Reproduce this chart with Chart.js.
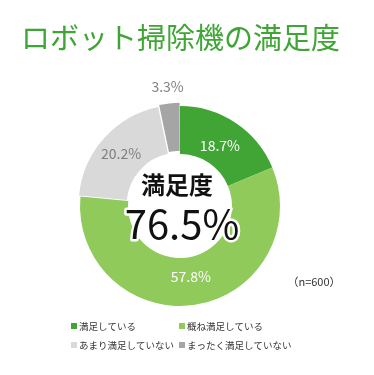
<!DOCTYPE html>
<html>
<head>
<meta charset="utf-8">
<script src="https://cdn.jsdelivr.net/npm/chart.js@4.4.1/dist/chart.umd.min.js"></script>
<style>
  html, body { margin: 0; padding: 0; background: #fff; }
  #wrap { width: 374px; height: 375px; }
</style>
</head>
<body>
<div id="wrap"><canvas id="pie" width="374" height="375"></canvas></div>
<script>
// chart data
const categories = ["満足している", "概ね満足している", "あまり満足していない", "まったく満足していない"];
const shares = [18.7, 57.8, 20.2, 3.3];
const colors = ["#41a535", "#8fca5a", "#d9d9d9", "#a5a5a5"];
const labelColors = ["#ffffff", "#ffffff", "#7f7f7f", "#7f7f7f"];
const offsets = [0, 0, 7, 7];
const titleText = "ロボット掃除機の満足度";
const centerTitle = "満足度";
const centerValue = "76.5%";
const sampleNote = "（n=600）";

const FONT = '"Noto Sans CJK JP", "Noto Sans", sans-serif';

const overlay = {
  id: "overlay",
  afterDatasetsDraw(chart) {
    const ctx = chart.ctx;
    const meta = chart.getDatasetMeta(0);
    ctx.save();

    // title
    ctx.fillStyle = "#3fa535";
    ctx.font = "29px " + FONT;
    ctx.textAlign = "left";
    ctx.textBaseline = "middle";
    ctx.fillText(titleText, 21, 38);

    // slice labels
    ctx.font = "14px " + FONT;
    ctx.textAlign = "center";
    meta.data.forEach((arc, i) => {
      const p = arc.getProps(["x", "y", "startAngle", "endAngle", "innerRadius", "outerRadius"], true);
      const mid = (p.startAngle + p.endAngle) / 2;
      const small = shares[i] < 5;
      const r = small ? p.outerRadius + 13 : (p.innerRadius + p.outerRadius) / 2 - 4;
      const off = offsets[i];
      const x = p.x + Math.cos(mid) * (r + off);
      const y = p.y + Math.sin(mid) * (r + off);
      ctx.fillStyle = small ? "#7f7f7f" : labelColors[i];
      ctx.fillText(shares[i].toFixed(1) + "%", x, y);
    });

    // center text with white halo
    const c = meta.data[0];
    ctx.lineJoin = "round";
    ctx.strokeStyle = "#ffffff";
    ctx.fillStyle = "#111111";
    ctx.lineWidth = 5;
    ctx.font = "bold 24px " + FONT;
    ctx.strokeText(centerTitle, c.x - 3, c.y - 21);
    ctx.fillText(centerTitle, c.x - 3, c.y - 21);
    ctx.font = "40px " + FONT;
    ctx.strokeText(centerValue, c.x + 2, c.y + 18);
    ctx.fillText(centerValue, c.x + 2, c.y + 18);

    // sample size
    ctx.font = "11px " + FONT;
    ctx.fillStyle = "#333333";
    ctx.fillText(sampleNote, 314, 282);

    // legend, two columns
    ctx.font = "9.5px " + FONT;
    ctx.textAlign = "left";
    const colX = [71, 179];
    const rowY = [326, 345];
    categories.forEach((name, i) => {
      const x = colX[i % 2];
      const y = rowY[Math.floor(i / 2)];
      ctx.fillStyle = colors[i];
      ctx.fillRect(x, y - 3, 6, 6);
      ctx.fillStyle = "#333333";
      ctx.fillText(name, x + 8, y);
    });

    ctx.restore();
  }
};

new Chart(document.getElementById("pie"), {
  type: "doughnut",
  data: {
    labels: categories,
    datasets: [{
      data: shares,
      backgroundColor: colors,
      borderWidth: 0,
      offset: offsets,
      hoverOffset: 0
    }]
  },
  options: {
    responsive: false,
    animation: false,
    radius: 100,
    cutout: "52%",
    layout: { padding: { left: 80, right: 94, top: 106, bottom: 69 } },
    plugins: {
      legend: { display: false },
      tooltip: { enabled: false }
    }
  },
  plugins: [overlay]
});
</script>
</body>
</html>
